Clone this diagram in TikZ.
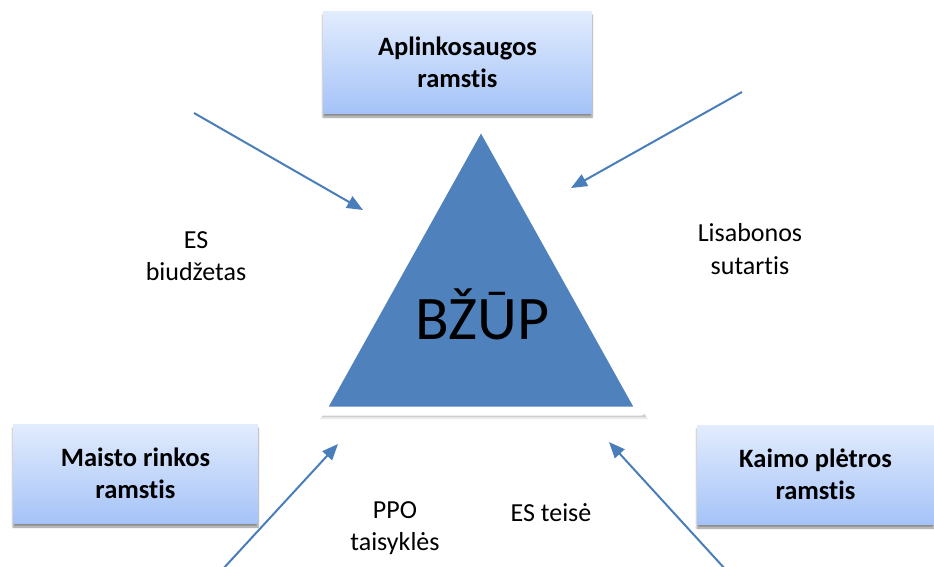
\documentclass[tikz,border=0pt]{standalone}
\usepackage{fontspec}
\setmainfont{Carlito}[Ligatures=NoCommon]
\usetikzlibrary{arrows.meta,shadows.blur}
\definecolor{triblue}{HTML}{4F81BD}
\definecolor{arrblue}{HTML}{4A7EBB}
\definecolor{boxtop}{HTML}{E2ECFD}
\definecolor{boxbot}{HTML}{A5C3F8}
\tikzset{
  pillar/.style={rectangle, top color=boxtop, bottom color=boxbot, draw=none,
    minimum width=#1, align=center, font=\fontsize{26.5}{32}\selectfont\bfseries,
    blur shadow={shadow xshift=0pt, shadow yshift=-4pt, shadow blur steps=6, shadow opacity=45}},
  lbl/.style={align=center, font=\fontsize{26}{32.5}\selectfont},
  conn/.style={draw=arrblue, line width=2pt, -{Triangle[length=16pt,width=13pt]}},
}
\begin{document}
\begin{tikzpicture}[x=1pt,y=-1pt]
\useasboundingbox (0,0) rectangle (934,566);
% pillars
\node[pillar=269pt, minimum height=102pt] (env) at (457.5,62) {Aplinkosaugos\\ramstis};
\node[pillar=245pt, minimum height=99pt] (food) at (135.5,473.5) {Maisto rinkos\\ramstis};
\node[pillar=237pt, minimum height=99pt] (rural) at (815.5,474.5) {Kaimo plėtros\\ramstis};
% triangle
\fill[black, opacity=0.12] (483,130) -- (322,417) -- (646,417) -- cycle;
\fill[black, opacity=0.08] (483,128) -- (320,419) -- (648,419) -- cycle;
\filldraw[fill=triblue, draw=white, line width=9pt, line join=round] (481,124) -- (321,411) -- (641,411) -- cycle;
\node[font=\fontsize{62}{63}\selectfont] (bzup) at (482,314) {BŽŪP};
% labels
\node[lbl] (budget) at (196,256) {ES\\biudžetas};
\node[lbl] (lisbon) at (750,249) {Lisabonos\\sutartis};
\node[lbl] (wto) at (395,528) {PPO\\taisyklės};
\node[lbl] (eulaw) at (551,513) {ES teisė};
% arrows
\coordinate (a1s) at (194,113); \coordinate (a1e) at (363,210);
\coordinate (a2s) at (742,92);  \coordinate (a2e) at (571,188);
\coordinate (a3s) at (222,570); \coordinate (a3e) at (338,444);
\coordinate (a4s) at (726,570); \coordinate (a4e) at (609,442);
\draw[conn] (a1s) -- (a1e);
\draw[conn] (a2s) -- (a2e);
\draw[conn] (a3s) -- (a3e);
\draw[conn] (a4s) -- (a4e);
\end{tikzpicture}
\end{document}
